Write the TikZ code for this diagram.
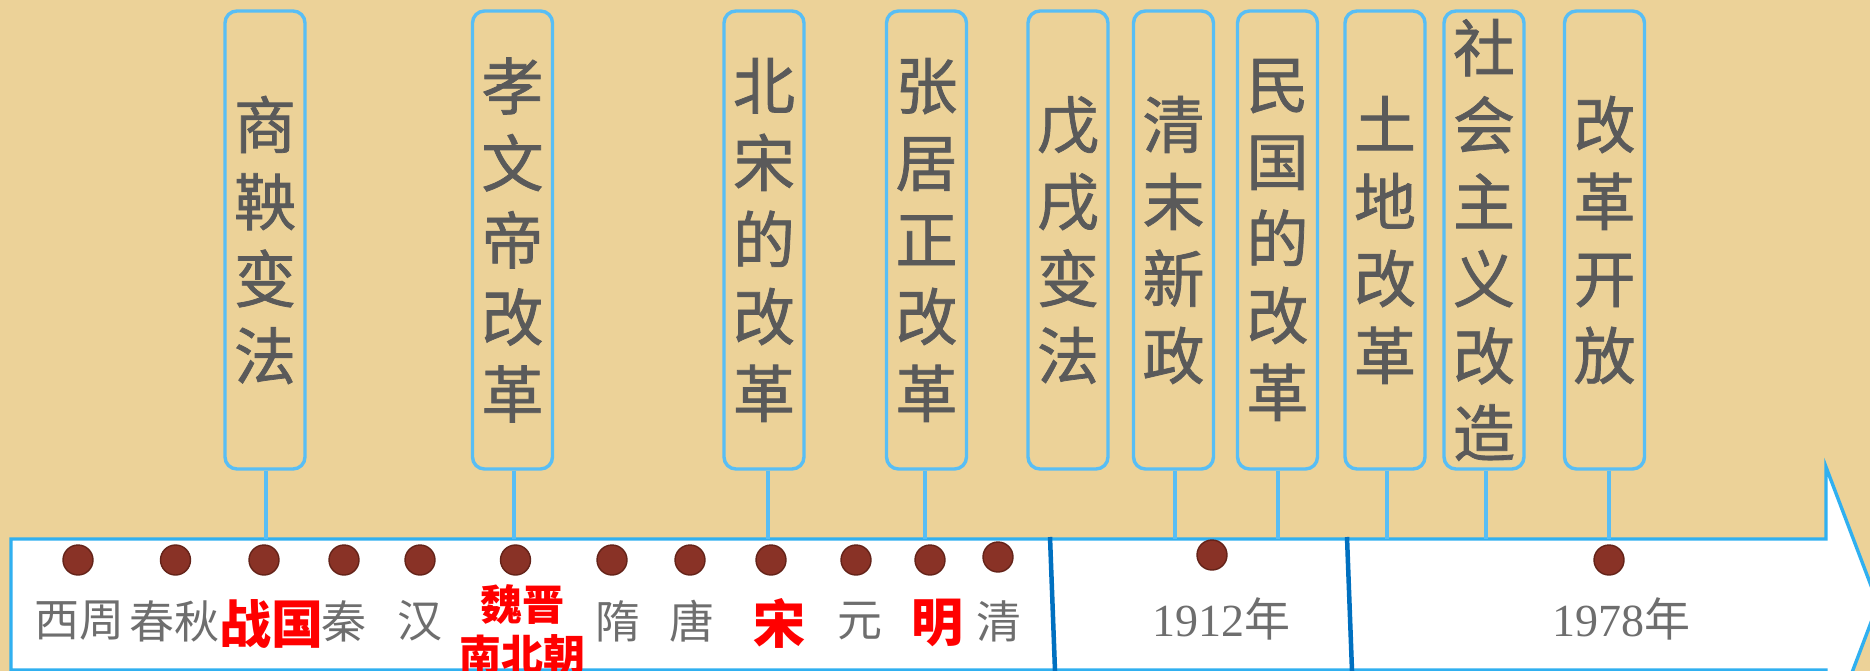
\documentclass[tikz,border=0pt]{standalone}
\usepackage{fontspec}
\newfontfamily\cjk{Noto Sans CJK SC}
\newfontfamily\cjkbox[FakeBold=1.2]{Noto Sans CJK SC}
\newfontfamily\tnr{Liberation Serif}
\definecolor{parch}{RGB}{236,210,152}
\definecolor{boxblue}{RGB}{88,190,245}
\definecolor{bandblue}{RGB}{48,176,240}
\definecolor{divblue}{RGB}{0,112,192}
\definecolor{boxtext}{RGB}{90,90,90}
\definecolor{bandtext}{RGB}{110,110,110}
\definecolor{dotfill}{RGB}{137,50,38}
\definecolor{dotline}{RGB}{100,35,25}
\begin{document}
\begin{tikzpicture}[x=1pt,y=-1pt,
  reform/.style={draw=boxblue, line width=3.4, rounded corners=12, minimum width=80,
    minimum height=458, inner sep=0, text=boxtext, align=center,
    font=\cjkbox\fontsize{62}{77}\selectfont},
  conn/.style={boxblue, line width=3.6},
  dot/.style={circle, fill=dotfill, draw=dotline, line width=1.4, minimum size=30, inner sep=0},
  per/.style={text=bandtext, inner sep=0, font=\cjk\fontsize{45}{50}\selectfont},
  hot/.style={text=red, inner sep=0, font=\cjk\bfseries\fontsize{52}{56}\selectfont},
  hotsmall/.style={text=red, inner sep=0, align=center, font=\cjk\bfseries\fontsize{42}{50}\selectfont},
  yr/.style={text=bandtext, inner sep=0, font=\cjk\fontsize{46}{50}\selectfont},
  divider/.style={divblue, line width=4.5}]
\useasboundingbox (0,0) rectangle (1870,671);
\fill[parch] (0,0) rectangle (1870,671);
\begin{scope}
\clip (0,0) rectangle (1870,671);
\draw[bandblue, line width=3.4, fill=white, line join=miter]
  (11,539) -- (1826,539) -- (1826,467) -- (1878,604) -- (1826,741) -- (1826,670) -- (11,670) -- cycle;
\end{scope}
% reform boxes
\node[reform] (b1) at (265,240) {商\\鞅\\变\\法};
\node[reform] (b2) at (512.5,240) {孝\\文\\帝\\改\\革};
\node[reform] (b3) at (764,240) {北\\宋\\的\\改\\革};
\node[reform] (b4) at (926.5,240) {张\\居\\正\\改\\革};
\node[reform] (b5) at (1068,240) {戊\\戌\\变\\法};
\node[reform] (b6) at (1173.5,240) {清\\末\\新\\政};
\node[reform] (b7) at (1277.5,240) {民\\国\\的\\改\\革};
\node[reform] (b8) at (1385,240) {土\\地\\改\\革};
\node[reform] (b9) at (1484,240) {社\\会\\主\\义\\改\\造};
\node[reform] (b10) at (1604.5,240) {改\\革\\开\\放};
% connector ends on the band
\coordinate (t1) at (266,539);
\coordinate (t2) at (514,539);
\coordinate (t3) at (768,539);
\coordinate (t4) at (925,539);
\coordinate (t6) at (1175,539);
\coordinate (t7) at (1278,539);
\coordinate (t8) at (1387,539);
\coordinate (t9) at (1486,539);
\coordinate (t10) at (1609,539);
\foreach \i in {1,2,3,4,6,7,8,9,10} {\draw[conn] (b\i.south -| t\i) -- (t\i);}
% dividers
\coordinate (v1a) at (1050,537); \coordinate (v1b) at (1055,671);
\coordinate (v2a) at (1347,537); \coordinate (v2b) at (1352,671);
\draw[divider] (v1a) -- (v1b);
\draw[divider] (v2a) -- (v2b);
% dots
\node[dot] (d1) at (78,560) {};
\node[dot] (d2) at (175.5,560) {};
\node[dot] (d3) at (264,560) {};
\node[dot] (d4) at (344,560) {};
\node[dot] (d5) at (420,560) {};
\node[dot] (d6) at (515.5,560) {};
\node[dot] (d7) at (612,560) {};
\node[dot] (d8) at (690,560) {};
\node[dot] (d9) at (771,560) {};
\node[dot] (d10) at (856,560) {};
\node[dot] (d11) at (930,560) {};
\node[dot] (d12) at (998,557) {};
\node[dot] (d13) at (1212,555) {};
\node[dot] (d14) at (1609,560) {};
% period labels
\node[per] (p1) at (79,621) {西周};
\node[per] (p2) at (174,621) {春秋};
\node[hot] (p3) at (271,624) {战国};
\node[per] (p4) at (344,621) {秦};
\node[per] (p5) at (420,621) {汉};
\node[hotsmall] (p6) at (522,630) {魏晋\\南北朝};
\node[per] (p7) at (618,621) {隋};
\node[per] (p8) at (692,621) {唐};
\node[hot] (p9) at (779,623) {宋};
\node[per] (p10) at (860,621) {元};
\node[hot] (p11) at (937,623) {明};
\node[per] (p12) at (999,621) {清};
\node[yr] (p13) at (1221,619) {{\tnr 1912}年};
\node[yr] (p14) at (1621,619) {{\tnr 1978}年};
\end{tikzpicture}
\end{document}
